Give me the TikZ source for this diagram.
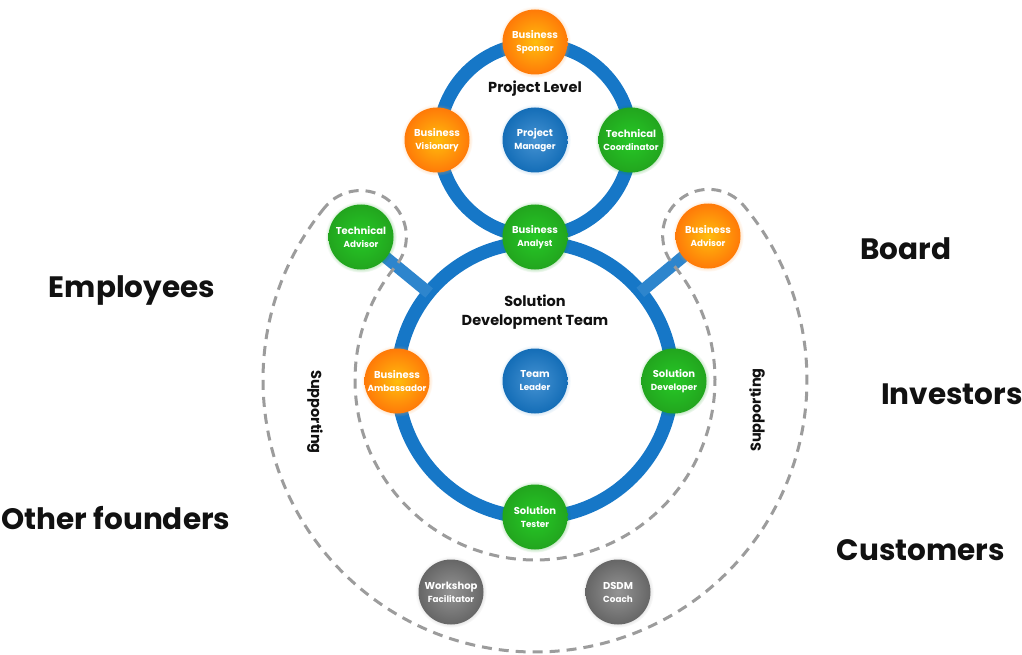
\documentclass[tikz,border=0pt]{standalone}
\usepackage{fontspec}
\setmainfont{Poppins}
\usetikzlibrary{calc,shadows}
\definecolor{ringblue}{HTML}{1677C7}
\definecolor{supportgray}{HTML}{9C9C9C}
\definecolor{labelblack}{HTML}{111111}
\definecolor{bubbleorange}{HTML}{FF7A08}
\definecolor{bubblegreen}{HTML}{22A51E}
\newcommand{\twoline}[2]{#1\\{\fontsize{8.8}{10}\selectfont #2}}
\tikzset{every bubble/.style={circle, minimum size=65pt, inner sep=0pt, align=center,
                              text=white, font=\bfseries\fontsize{10}{13}\selectfont},
        orange bubble/.style={every bubble, inner color=orange!55!yellow!95!white, outer color=bubbleorange,
                              circular glow={fill=orange!70, opacity=0.35, shadow scale=1.1}},
        green bubble/.style={every bubble, inner color=green!75!black!85!white, outer color=bubblegreen,
                              circular glow={fill=green!60!black, opacity=0.3, shadow scale=1.1}},
        blue bubble/.style={every bubble, inner color=ringblue!80!white, outer color=ringblue!92!black,
                              circular glow={fill=ringblue!70, opacity=0.3, shadow scale=1.1}},
        gray bubble/.style={every bubble, inner color=black!42, outer color=black!60,
                              circular glow={fill=black!40, opacity=0.3, shadow scale=1.1}},
        ring/.style={draw=ringblue, line width=13.5pt},
        spoke/.style={draw=ringblue!90!white, line width=12pt},
        support/.style={draw=supportgray, line width=3pt, dash pattern=on 10pt off 7pt},
        title label/.style={text=labelblack, font=\bfseries\fontsize{14.5}{19}\selectfont, align=center},
        side label/.style={text=labelblack, font=\bfseries\fontsize{29.5}{32}\selectfont, anchor=base},
        }

\begin{document}
\begin{tikzpicture}[x=1pt, y=-1pt]
    \useasboundingbox[fill=white] (0,0) rectangle (1022,655);

    \coordinate (projectcentre) at (535,140);
    \coordinate (teamcentre) at (535,380);
    \coordinate (techadvisorpos) at (361,237);
    \coordinate (bizadvisorpos) at (708,236);

    \draw[ring] (projectcentre) circle[radius=96];
    \draw[ring] (teamcentre) circle[radius=137.5];

    \draw[spoke] (techadvisorpos) -- ($(teamcentre)!137pt!(techadvisorpos)$);
    \draw[spoke] (bizadvisorpos) -- ($(teamcentre)!137pt!(bizadvisorpos)$);

    \draw[support] (teamcentre) ++(219.4:272) arc[start angle=219.4, end angle=-39.8, radius=272]
        arc[start angle=-39.8, end angle=-219.8, radius=46]
        arc[start angle=-39.8, end angle=219.4, radius=180]
        arc[start angle=39.4, end angle=-140.6, radius=46] -- cycle;

    \node[orange bubble] (sponsor) at (535,42) {\twoline{Business}{Sponsor}};
    \node[orange bubble] (visionary) at (437,140) {\twoline{Business}{Visionary}};
    \node[blue bubble] (manager) at (projectcentre) {\twoline{Project}{Manager}};
    \node[green bubble] (coordinator) at (631,140) {\twoline{Technical}{Coordinator}};
    \node[green bubble] (analyst) at (535,237) {\twoline{Business}{Analyst}};
    \node[green bubble] (techadvisor) at (techadvisorpos) {\twoline{Technical}{Advisor}};
    \node[orange bubble] (bizadvisor) at (bizadvisorpos) {\twoline{Business}{Advisor}};
    \node[orange bubble] (ambassador) at (397,381) {\twoline{Business}{Ambassador}};
    \node[blue bubble] (leader) at (535,381) {\twoline{Team}{Leader}};
    \node[green bubble] (developer) at (674,381) {\twoline{Solution}{Developer}};
    \node[green bubble] (tester) at (535,517) {\twoline{Solution}{Tester}};
    \node[gray bubble] (facilitator) at (451,592) {\twoline{Workshop}{Facilitator}};
    \node[gray bubble] (coach) at (618,592) {\twoline{DSDM}{Coach}};

    \node[title label] (projectlevel) at (535,89) {Project Level};
    \node[title label] (soldevteam) at (535,312) {Solution\\Development Team};
    \node[title label, rotate=-90] (supportleft) at (315,412) {Supporting};
    \node[title label, rotate=90] (supportright) at (757,410) {Supporting};

    \node[side label] (employees) at (132,297) {Employees};
    \node[side label] (founders) at (116,529) {Other founders};
    \node[side label] (board) at (906,259) {Board};
    \node[side label] (investors) at (952,404) {Investors};
    \node[side label] (customers) at (921,560) {Customers};
\end{tikzpicture}
\end{document}
